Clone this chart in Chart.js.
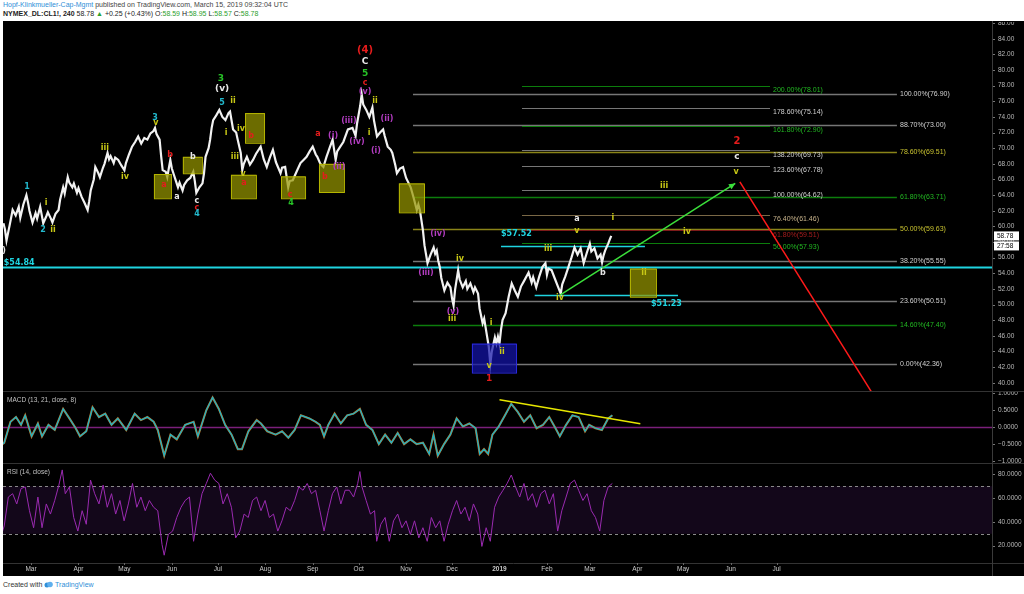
<!DOCTYPE html>
<html>
<head>
<meta charset="utf-8">
<script src="https://cdn.jsdelivr.net/npm/chart.js@4.4.1/dist/chart.umd.min.js"></script>
<style>
  body { margin: 0; width: 1024px; height: 594px; background: #fff; position: relative; overflow: hidden;
         font-family: "Liberation Sans", Arial, sans-serif; }
  #h1 { position: absolute; left: 3px; top: 1px; font-size: 7px; color: #444; white-space: nowrap; }
  #h1 .auth { color: #2f8fd8; }
  #h2 { position: absolute; left: 3px; top: 10px; font-size: 7px; color: #222; white-space: nowrap; }
  #h2 .g { color: #2ca02c; }
  #board { position: absolute; left: 3px; top: 21px; width: 1021px; height: 555px; background: #000; }
  #board canvas { position: absolute; left: 0; }
  .sep { position: absolute; left: 0; width: 1021px; height: 1px; background: #333; }
  #vsep { position: absolute; left: 989px; top: 0; width: 1px; height: 555px; background: #3a3a3a; }
  #foot { position: absolute; left: 3px; top: 581px; font-size: 7px; color: #333; white-space: nowrap; }
  #foot .tv { color: #2f8fd8; }
</style>
</head>
<body>
<div id="h1"><span class="auth">Hopf-Klinkmueller-Cap-Mgmt</span> published on TradingView.com, March 15, 2019 09:32:04 UTC</div>
<div id="h2"><b>NYMEX_DL:CL1!, 240</b> 58.78 <span class="g">&#9650;</span> +0.25 (+0.43%) O:<span class="g">58.59</span> H:<span class="g">58.95</span> L:<span class="g">58.57</span> C:<span class="g">58.78</span></div>
<div id="board">
  <canvas id="price" width="1021" height="369" style="top:1px"></canvas>
  <div class="sep" style="top:370px"></div>
  <canvas id="macd" width="1021" height="71" style="top:371px"></canvas>
  <div class="sep" style="top:442px"></div>
  <canvas id="rsi" width="1021" height="112" style="top:443px"></canvas>
  <div id="vsep"></div>
</div>
<div id="foot">Created with <svg width="9" height="7" viewBox="0 0 9 7" style="vertical-align:-1px"><circle cx="3" cy="4" r="2.5" fill="#2f8fd8"/><circle cx="6" cy="3.5" r="2.8" fill="#5fb0ee"/></svg> <span class="tv">TradingView</span></div>

<script>
// x values are days counted from 2018-03-01
const priceDay = [
  -18, -17, -16, -14, -12, -10, -8, -7, -5, -3,
  -2, -1, 1, 3, 4, 6, 8, 10, 11, 13,
  14, 16, 18, 19, 21, 22, 24, 25, 27, 28,
  30, 31, 33, 35, 37, 38, 39, 41, 42, 44,
  45, 47, 48, 50, 51, 52, 54, 55, 57, 59,
  61, 62, 64, 66, 68, 70, 72, 74, 76, 78,
  80, 81, 82, 84, 85, 86, 88, 89, 90, 91,
  92, 93, 95, 96, 97, 99, 100, 102, 104, 106,
  107, 108, 110, 112, 113, 114, 116, 117, 118, 119,
  121, 123, 125, 127, 129, 130, 132, 134, 135, 137,
  138, 139, 141, 143, 145, 147, 150, 152, 154, 156,
  158, 160, 163, 164, 166, 168, 169, 171, 173, 176,
  178, 180, 182, 184, 186, 187, 189, 191, 193, 195,
  197, 199, 200, 202, 204, 207, 210, 212, 213, 215,
  216, 217, 219, 221, 223, 224, 226, 228, 230, 231,
  233, 235, 236, 238, 239, 241, 243, 245, 248, 250,
  252, 253, 254, 255, 256, 257, 259, 261, 263, 264,
  265, 266, 267, 268, 270, 272, 274, 275, 276, 277,
  279, 280, 282, 284, 285, 287, 289, 290, 292, 293,
  295, 296, 298, 299, 300, 301, 303, 304, 305, 306,
  307, 308, 310, 312, 314, 316, 318, 320, 322, 325,
  327, 328, 330, 332, 334, 336, 337, 338, 340, 342,
  344, 346, 347, 349, 351, 353, 355, 357, 359, 361,
  363, 365, 366, 368, 370, 372, 373, 374, 375, 377, 378, 379
];
const priceClose = [
  60.4, 59.6, 58.2, 60.1, 62.1, 61.4, 62.5, 61.1, 62.8, 64.0,
  63.1, 62.0, 60.5, 61.7, 61.0, 62.5, 60.4, 61.3, 61.8, 61.0,
  60.5, 61.6, 62.1, 63.4, 65.0, 64.2, 66.3, 65.6, 65.0, 65.5,
  64.3, 64.9, 63.8, 63.0, 62.1, 63.2, 64.6, 66.0, 67.6, 66.8,
  66.3, 67.5, 68.0, 69.4, 68.6, 69.0, 68.1, 68.8, 68.5, 67.8,
  67.2, 68.1, 69.2, 70.2, 70.8, 71.5, 70.6, 71.3, 71.1, 71.9,
  72.2, 72.6, 71.8, 71.1, 69.0, 67.2, 67.0, 66.3, 67.4, 68.5,
  67.4, 66.8, 65.6, 65.0, 65.6, 64.6, 65.3, 65.9, 66.2, 67.0,
  65.8, 64.3, 65.0, 65.5, 66.8, 68.9, 70.0, 71.1, 72.6, 73.6,
  74.2, 74.9, 74.0, 73.6, 74.5, 74.7, 72.4, 72.0, 71.1, 69.4,
  67.2, 68.0, 68.9, 67.9, 68.5, 69.3, 70.2, 68.6, 67.6, 68.8,
  69.8, 68.2, 66.8, 67.5, 67.6, 65.0, 65.8, 65.9, 66.8, 68.1,
  68.5, 68.9, 69.6, 70.2, 69.2, 68.9, 68.0, 67.6, 68.9, 70.0,
  71.1, 68.5, 69.6, 70.2, 70.8, 72.4, 72.6, 71.6, 73.2, 75.4,
  76.9, 75.6, 74.9, 74.0, 75.2, 73.6, 71.5, 72.0, 72.4, 71.6,
  70.2, 69.8, 69.4, 67.8, 66.8, 67.4, 67.6, 66.2, 65.0, 63.6,
  62.1, 62.8, 62.1, 60.8, 59.5, 57.6, 55.3, 56.4, 57.3, 56.5,
  56.9, 55.6, 54.8, 53.4, 51.8, 52.8, 52.2, 50.8, 49.9, 51.9,
  54.4, 53.2, 52.2, 53.0, 52.0, 52.7, 51.6, 52.2, 51.4, 49.5,
  47.6, 48.2, 45.8, 44.6, 42.4, 44.0, 45.8, 45.0, 45.9, 45.0,
  46.8, 48.0, 48.9, 51.0, 52.7, 51.8, 51.0, 52.3, 53.0, 54.1,
  52.8, 53.5, 52.2, 53.6, 54.8, 55.3, 53.8, 54.6, 54.4, 53.4,
  52.4, 51.4, 52.6, 53.6, 54.8, 56.0, 57.3, 56.4, 57.2, 55.3,
  56.6, 57.8, 56.8, 57.2, 55.9, 56.4, 55.4, 56.3, 56.9, 57.8, 58.3, 58.78
];

const macdDay = [
  -20.2, -17.5, -13.4, -9.8, -6.5, -3.8, 0.4, 4.5, 7.2, 11.4,
  15.5, 21.0, 25.1, 29.2, 32.0, 36.1, 40.2, 44.4, 48.5, 52.6,
  56.7, 62.2, 67.7, 71.8, 76.0, 80.1, 82.8, 87.0, 91.1, 95.2,
  100.7, 106.2, 109.0, 114.5, 118.6, 122.7, 126.8, 131.0, 135.1, 137.8,
  142.0, 147.4, 150.2, 154.3, 159.8, 164.0, 168.1, 172.2, 176.3, 181.8,
  185.9, 188.7, 191.4, 194.2, 198.3, 202.4, 206.5, 210.7, 214.8, 218.9,
  223.0, 227.2, 231.3, 235.4, 239.5, 243.7, 247.8, 251.9, 256.0, 260.1,
  262.9, 265.7, 269.8, 273.9, 278.0, 282.1, 286.3, 290.4, 293.1, 295.9,
  298.6, 301.4, 305.5, 309.6, 313.7, 317.9, 322.0, 326.1, 330.2, 334.4,
  338.5, 342.6, 345.4, 349.5, 353.6, 357.7, 361.9, 364.6, 368.7, 372.9,
  377.0, 379.7
];
const macdValue = [
  -0.55, -0.46, 0.16, 0.30, 0.07, 0.35, -0.27, 0.11, -0.27, 0.07,
  -0.08, 0.54, 0.26, -0.03, -0.27, -0.12, 0.59, 0.30, 0.40, 0.07,
  0.26, -0.08, 0.40, 0.21, 0.30, 0.16, -0.08, -0.84, -0.22, -0.36,
  0.07, 0.16, -0.27, 0.50, 0.88, 0.54, 0.07, -0.22, -0.65, -0.65,
  -0.12, 0.21, 0.11, -0.12, -0.22, -0.12, -0.31, -0.08, 0.35, 0.26,
  0.16, 0.07, -0.27, 0.07, 0.40, 0.11, 0.35, 0.40, 0.54, 0.07,
  -0.08, -0.50, -0.22, -0.46, -0.17, -0.50, -0.36, -0.50, -0.46, -0.79,
  -0.22, -0.84, -0.50, -0.22, 0.26, 0.02, 0.11, -0.03, -0.79, -0.65,
  -0.79, -0.22, 0.02, 0.35, 0.69, 0.45, 0.16, 0.35, -0.03, 0.07,
  0.30, -0.03, -0.27, 0.07, 0.35, 0.30, -0.12, 0.07, -0.03, -0.08,
  0.26, 0.35
];

const rsiDay = [
  -18.9, -17.5, -14.8, -12.0, -9.3, -6.5, -3.8, -1.0, 1.7, 4.5,
  7.2, 10.0, 12.7, 15.5, 18.2, 20.4, 22.4, 25.1, 27.9, 30.6,
  33.4, 36.1, 38.9, 41.6, 44.4, 47.1, 49.8, 52.6, 55.3, 58.1,
  60.8, 63.6, 66.3, 69.1, 71.8, 74.6, 77.3, 80.1, 82.8, 85.6,
  87.0, 89.7, 92.5, 95.2, 98.0, 100.7, 103.5, 106.2, 109.0, 111.7,
  114.5, 117.2, 120.0, 122.7, 125.4, 128.2, 130.9, 133.7, 136.4, 139.2,
  141.9, 144.7, 147.4, 150.2, 152.9, 155.7, 158.4, 161.2, 163.9, 166.7,
  169.4, 172.2, 174.9, 177.7, 180.4, 183.2, 185.9, 188.7, 191.4, 194.2,
  196.9, 199.7, 202.4, 205.2, 207.9, 210.7, 213.4, 214.8, 216.2, 218.9,
  221.7, 224.4, 225.8, 228.5, 231.3, 234.0, 236.8, 239.5, 242.3, 245.0,
  247.8, 250.5, 253.3, 256.0, 258.8, 261.5, 264.3, 267.0, 269.8, 272.5,
  275.3, 278.0, 280.8, 283.5, 286.3, 289.0, 291.8, 294.5, 297.3, 300.0,
  302.8, 305.5, 308.3, 311.0, 313.7, 316.5, 319.2, 322.0, 324.7, 327.5,
  330.2, 333.0, 335.7, 338.5, 341.2, 344.0, 346.7, 349.5, 352.2, 355.0,
  357.7, 360.5, 363.2, 366.0, 368.7, 371.5, 374.2, 377.0, 379.7
];
const rsiValue = [
  30.9, 36.6, 60.9, 63.7, 55.1, 68.0, 69.4, 49.4, 35.1, 60.9,
  35.1, 55.1, 46.6, 58.0, 70.9, 83.7, 63.7, 69.4, 43.7, 32.3,
  49.4, 38.0, 75.1, 63.7, 55.1, 70.9, 52.3, 63.7, 46.6, 58.0,
  40.9, 55.1, 72.3, 52.3, 60.9, 49.4, 58.0, 52.3, 49.4, 20.9,
  12.0, 29.4, 32.3, 43.7, 52.3, 58.0, 60.9, 23.7, 46.6, 63.7,
  72.3, 80.9, 75.1, 72.3, 55.1, 63.7, 52.3, 26.6, 32.3, 46.6,
  43.7, 58.0, 60.9, 49.4, 58.0, 43.7, 46.6, 32.3, 40.9, 52.3,
  49.4, 58.0, 69.4, 66.6, 72.3, 63.7, 66.6, 49.4, 32.3, 49.4,
  63.7, 69.4, 55.1, 66.6, 66.6, 60.9, 72.3, 82.3, 69.4, 58.0,
  46.6, 49.4, 23.7, 38.0, 43.7, 23.7, 40.9, 46.6, 35.1, 40.9,
  29.4, 40.9, 26.6, 35.1, 23.7, 43.7, 35.1, 40.9, 23.7, 38.0,
  49.4, 58.0, 46.6, 52.3, 40.9, 55.1, 46.6, 19.4, 35.1, 23.7,
  52.3, 60.9, 66.6, 72.3, 79.4, 69.4, 60.9, 72.3, 58.0, 63.7,
  52.3, 63.7, 66.6, 55.1, 63.7, 32.3, 49.4, 60.9, 72.3, 75.1,
  66.6, 58.0, 63.7, 49.4, 43.7, 32.3, 58.0, 69.4, 72.3
];

const priceTicks = [40, 42, 44, 46, 48, 50, 52, 54, 56, 58, 60, 62, 64, 66, 68, 70, 72, 74, 76, 78, 80, 82, 84, 86];
const macdTicks = [1, 0.5, 0, -0.5, -1];
const rsiTicks = [80, 60, 40, 20];
const monthDay = [0, 31, 61, 92, 122, 153, 184, 214, 245, 275, 306, 337, 365, 396, 426, 457, 487];
const monthLabel = ["Mar", "Apr", "May", "Jun", "Jul", "Aug", "Sep", "Oct", "Nov", "Dec", "2019", "Feb", "Mar", "Apr", "May", "Jun", "Jul"];

// fibonacci levels (retracement of the Oct high / Dec low, and the extension)
const fibALevel = [76.90, 73.00, 69.51, 63.71, 59.63, 55.55, 50.51, 47.40, 42.36];
const fibAPct = ["100.00%", "88.70%", "78.60%", "61.80%", "50.00%", "38.20%", "23.60%", "14.60%", "0.00%"];
const fibBLevel = [78.01, 75.14, 72.90, 69.73, 67.78, 64.62, 61.46, 59.51, 57.93];
const fibBPct = ["200.00%", "178.60%", "161.80%", "138.20%", "123.60%", "100.00%", "76.40%", "61.80%", "50.00%"];

const X_MIN = -18.29, X_MAX = 627.7;

const COL = {
  w: "#e8e8e8", y: "#c9c916", r: "#e51c1c", g: "#27c427", c: "#22b8cc", m: "#b23cc0", cy: "#1fd4e0"
};
const FIB_COL = { gray: ["#767676", "#d0d0d0"], green: ["#0c7d0c", "#22b822"], olive: ["#8a8418", "#c8c230"],
                  tan: ["#7a6846", "#c9b48c"], red: ["#7d1a1a", "#a51d1d"] };
const fibAStyle = ["gray", "gray", "olive", "green", "olive", "gray", "gray", "green", "gray"];
const fibBStyle = ["green", "gray", "green", "gray", "gray", "gray", "tan", "red", "green"];

// wave labels: text, day, price, colour, size
const waves = [
  [")", -17.6, 56.8, "w", 8], ["1", -2.6, 65.0, "c", 8], ["i", 9.8, 63.0, "y", 8], ["2", 7.8, 59.5, "c", 8],
  ["ii", 14.4, 59.5, "y", 8], ["iii", 48.3, 70.0, "y", 8], ["iv", 61.4, 66.3, "y", 8], ["3", 81, 73.9, "c", 8],
  ["v", 81.6, 73.2, "y", 8], ["b", 90.8, 69.1, "r", 8], ["a", 86.9, 65.3, "r", 8], ["a", 95.4, 63.8, "w", 8],
  ["b", 105.8, 68.9, "w", 8], ["c", 108.4, 63.2, "w", 8], ["c", 108.4, 62.4, "r", 8], ["4", 108.4, 61.6, "c", 8],
  ["3", 124.1, 78.9, "g", 9], ["(v)", 124.8, 77.6, "w", 9], ["5", 124.8, 75.8, "c", 8], ["ii", 131.9, 76.1, "y", 8],
  ["i", 127.4, 72.0, "y", 8], ["iv", 137.2, 72.5, "y", 8], ["b", 143.7, 71.6, "r", 8], ["iii", 133.2, 68.9, "y", 8],
  ["v", 138.5, 66.7, "y", 8], ["a", 139.1, 65.5, "r", 8], ["c", 169.2, 64.0, "r", 8], ["4", 169.8, 63.0, "g", 8],
  ["a", 187.5, 71.8, "r", 8], ["(i)", 197.3, 71.6, "m", 8], ["b", 192, 66.3, "r", 8], ["(ii)", 201.2, 67.6, "m", 8],
  ["(iii)", 207.7, 73.5, "m", 8], ["(iv)", 212.9, 70.8, "m", 8], ["(4)", 218.2, 82.5, "r", 10], ["C", 218.2, 81.1, "w", 9],
  ["5", 218.2, 79.5, "g", 9], ["c", 218.2, 78.4, "r", 8], ["(v)", 218.2, 77.2, "m", 8], ["ii", 224.7, 76.1, "y", 8],
  ["i", 220.8, 72.0, "y", 8], ["(ii)", 232.5, 73.8, "m", 8], ["(i)", 225.3, 69.7, "m", 8], ["(iv)", 265.8, 59.1, "m", 8],
  ["iv", 280.2, 55.9, "y", 8], ["(iii)", 258, 54.0, "m", 8], ["(v)", 275.6, 49.1, "m", 8], ["iii", 275, 48.2, "y", 8],
  ["i", 300.5, 47.7, "y", 8], ["ii", 307.6, 43.9, "y", 8], ["v", 299.2, 42.1, "y", 8], ["1", 299.2, 40.5, "r", 9],
  ["iii", 337.7, 57.1, "y", 8], ["a", 356.6, 60.9, "w", 8], ["v", 356.6, 59.4, "y", 8], ["i", 380.1, 61.1, "y", 8],
  ["iv", 428.5, 59.3, "y", 8], ["b", 373.6, 54.0, "w", 8], ["iv", 345.5, 50.8, "y", 8], ["ii", 400.4, 54.1, "y", 8],
  ["iii", 413.5, 65.2, "y", 8], ["2", 461.1, 70.9, "r", 10], ["c", 461.1, 68.9, "w", 9], ["v", 460.5, 67.0, "y", 8]
];

// yellow boxes: day from, day to, price top, price bottom
const boxes = [
  [80.3, 91.4, 66.7, 63.6], [99.2, 111.6, 68.9, 66.8], [139.8, 152.2, 74.5, 70.7], [130.6, 146.9, 66.6, 63.6],
  [163.3, 179.0, 66.4, 63.6], [188.1, 204.4, 68.0, 64.4], [240.3, 256.7, 65.5, 61.8], [391.2, 408.2, 54.6, 51.0]
];
const blueBox = [288.0, 316.8, 45.0, 41.3];

function X(ch, d) { return ch.scales.x.getPixelForValue(d); }
function Y(ch, v) { return ch.scales.y.getPixelForValue(v); }

function hline(ctx, x1, x2, y, color, w) {
  ctx.strokeStyle = color; ctx.lineWidth = w || 1;
  ctx.beginPath(); ctx.moveTo(x1, Math.round(y) + 0.5); ctx.lineTo(x2, Math.round(y) + 0.5); ctx.stroke();
}

function drawAxis(ch, values, fmt) {
  const ctx = ch.ctx, right = ch.chartArea.right;
  ctx.save();
  ctx.font = '6.5px "Liberation Sans"';
  ctx.fillStyle = "#b8b8b8"; ctx.textAlign = "left"; ctx.textBaseline = "middle";
  values.forEach(v => {
    const p = Y(ch, v);
    hline(ctx, right, right + 3, p, "#777", 1);
    ctx.fillText(fmt(v), right + 6, p);
  });
  ctx.restore();
}

const baseOptions = (ymin, ymax, padBottom) => ({
  responsive: false,
  animation: false,
  events: [],
  layout: { padding: { left: 0, top: 0, right: 32, bottom: padBottom || 0 } },
  plugins: { legend: { display: false }, tooltip: { enabled: false } },
  scales: {
    x: { type: "linear", min: X_MIN, max: X_MAX, display: false },
    y: { min: ymin, max: ymax, display: false }
  }
});

const pricePlugin = {
  id: "priceDecor",
  beforeDatasetsDraw(ch) {
    const ctx = ch.ctx, a = ch.chartArea;
    ctx.save();
    ctx.font = '7px "Liberation Sans"';
    ctx.textBaseline = "middle"; ctx.textAlign = "left";
    fibALevel.forEach((v, i) => {
      const st = FIB_COL[fibAStyle[i]], y = Y(ch, v);
      hline(ctx, X(ch, 249.5), X(ch, 565.6), y, st[0], 1.6);
      ctx.fillStyle = st[1];
      ctx.fillText(fibAPct[i] + "(" + v.toFixed(2) + ")", X(ch, 567.6), y);
    });
    ctx.textBaseline = "top";
    fibBLevel.forEach((v, i) => {
      const st = FIB_COL[fibBStyle[i]], y = Y(ch, v);
      hline(ctx, X(ch, 320.7), X(ch, 482.7), y, st[0], 1);
      ctx.fillStyle = st[1];
      ctx.fillText(fibBPct[i] + "(" + v.toFixed(2) + ")", X(ch, 484.7), y + 1);
    });
    // cyan support / resistance lines
    hline(ctx, a.left, a.right, Y(ch, 54.84), COL.cy, 2);
    hline(ctx, X(ch, 307), X(ch, 401), Y(ch, 57.52), COL.cy, 1.5);
    hline(ctx, X(ch, 329), X(ch, 422.6), Y(ch, 51.23), COL.cy, 1.5);
    ctx.restore();
  },
  afterDatasetsDraw(ch) {
    const ctx = ch.ctx, a = ch.chartArea;
    ctx.save();
    ctx.beginPath(); ctx.rect(a.left, a.top, a.right - a.left, a.bottom - a.top); ctx.clip();
    boxes.forEach(b => {
      const x1 = X(ch, b[0]), x2 = X(ch, b[1]), y1 = Y(ch, b[2]), y2 = Y(ch, b[3]);
      ctx.fillStyle = "rgba(150,150,0,0.72)"; ctx.fillRect(x1, y1, x2 - x1, y2 - y1);
      ctx.strokeStyle = "#b5b500"; ctx.lineWidth = 1; ctx.strokeRect(x1 + 0.5, y1 + 0.5, x2 - x1, y2 - y1);
    });
    {
      const b = blueBox, x1 = X(ch, b[0]), x2 = X(ch, b[1]), y1 = Y(ch, b[2]), y2 = Y(ch, b[3]);
      ctx.fillStyle = "rgba(20,20,170,0.72)"; ctx.fillRect(x1, y1, x2 - x1, y2 - y1);
      ctx.strokeStyle = "#2a2ae0"; ctx.strokeRect(x1 + 0.5, y1 + 0.5, x2 - x1, y2 - y1);
    }
    // projected path
    ctx.lineWidth = 1.5;
    ctx.strokeStyle = "#3be03b";
    const gx1 = X(ch, 345.5), gy1 = Y(ch, 51.2), gx2 = X(ch, 460), gy2 = Y(ch, 65.5);
    ctx.beginPath(); ctx.moveTo(gx1, gy1); ctx.lineTo(gx2, gy2); ctx.stroke();
    const ang = Math.atan2(gy2 - gy1, gx2 - gx1);
    ctx.fillStyle = "#3be03b";
    ctx.beginPath(); ctx.moveTo(gx2, gy2);
    ctx.lineTo(gx2 - 7 * Math.cos(ang - 0.45), gy2 - 7 * Math.sin(ang - 0.45));
    ctx.lineTo(gx2 - 7 * Math.cos(ang + 0.45), gy2 - 7 * Math.sin(ang + 0.45));
    ctx.closePath(); ctx.fill();
    ctx.strokeStyle = "#ff1a1a";
    ctx.beginPath(); ctx.moveTo(X(ch, 463), Y(ch, 65.7)); ctx.lineTo(X(ch, 550), Y(ch, 38.5)); ctx.stroke();
    ctx.restore();

    ctx.save();
    ctx.textAlign = "center"; ctx.textBaseline = "middle";
    waves.forEach(w => {
      ctx.font = "bold " + w[4] + 'px "DejaVu Sans"';
      ctx.fillStyle = COL[w[3]];
      ctx.fillText(w[0], X(ch, w[1]), Y(ch, w[2]));
    });
    ctx.textAlign = "left";
    ctx.font = 'bold 8px "DejaVu Sans"';
    ctx.fillStyle = COL.cy;
    ctx.fillText("$54.84", X(ch, -17.8), Y(ch, 55.35));
    ctx.fillText("$57.52", X(ch, 307), Y(ch, 59.1));
    ctx.fillText("$51.23", X(ch, 405), Y(ch, 50.1));
    ctx.restore();

    drawAxis(ch, priceTicks, v => v.toFixed(2));
    // last price tag
    const py = Y(ch, 58.78);
    ctx.save();
    ctx.fillStyle = "#fff";
    ctx.fillRect(a.right + 2, py - 4.5, 25, 9);
    ctx.fillRect(a.right + 2, py + 5.5, 25, 9);
    ctx.fillStyle = "#000"; ctx.font = '6.5px "Liberation Sans"'; ctx.textBaseline = "middle"; ctx.textAlign = "left";
    ctx.fillText("58.78", a.right + 5, py);
    ctx.fillText("27:58", a.right + 5, py + 10);
    ctx.restore();
  }
};

const macdPlugin = {
  id: "macdDecor",
  beforeDatasetsDraw(ch) {
    const ctx = ch.ctx, a = ch.chartArea;
    ctx.save();
    hline(ctx, a.left, a.right, Y(ch, 0), "#7a1f7a", 1.5);
    ctx.restore();
  },
  afterDatasetsDraw(ch) {
    const ctx = ch.ctx;
    ctx.save();
    ctx.strokeStyle = "#e6e600"; ctx.lineWidth = 1.5;
    ctx.beginPath(); ctx.moveTo(X(ch, 306), Y(ch, 0.81)); ctx.lineTo(X(ch, 398), Y(ch, 0.10)); ctx.stroke();
    ctx.font = '6.5px "Liberation Sans"'; ctx.fillStyle = "#c0c0c0"; ctx.textBaseline = "top";
    ctx.fillText("MACD (13, 21, close, 8)", 4, 5);
    ctx.restore();
    drawAxis(ch, macdTicks, v => (v < 0 ? "\u2212" : "") + Math.abs(v).toFixed(4));
  }
};

const rsiPlugin = {
  id: "rsiDecor",
  beforeDatasetsDraw(ch) {
    const ctx = ch.ctx, a = ch.chartArea;
    ctx.save();
    ctx.fillStyle = "#13071a";
    ctx.fillRect(a.left, Y(ch, 70), a.right - a.left, Y(ch, 30) - Y(ch, 70));
    ctx.setLineDash([3, 3]);
    hline(ctx, a.left, a.right, Y(ch, 70), "#8a8a8a", 1);
    hline(ctx, a.left, a.right, Y(ch, 30), "#8a8a8a", 1);
    ctx.restore();
  },
  afterDatasetsDraw(ch) {
    const ctx = ch.ctx, a = ch.chartArea;
    ctx.save();
    ctx.font = '6.5px "Liberation Sans"'; ctx.fillStyle = "#c0c0c0"; ctx.textBaseline = "top";
    ctx.fillText("RSI (14, close)", 4, 5);
    hline(ctx, 0, ch.width, a.bottom, "#333", 1);
    ctx.textAlign = "center"; ctx.textBaseline = "middle"; ctx.fillStyle = "#c8c8c8";
    monthDay.forEach((d, i) => {
      const x = X(ch, d);
      ctx.font = (monthLabel[i] === "2019" ? "bold " : "") + '6.5px "Liberation Sans"';
      ctx.fillText(monthLabel[i], x, a.bottom + 6.5);
      ctx.strokeStyle = "#666"; ctx.beginPath(); ctx.moveTo(Math.round(x) + 0.5, a.bottom); ctx.lineTo(Math.round(x) + 0.5, a.bottom + 2); ctx.stroke();
    });
    ctx.restore();
    drawAxis(ch, rsiTicks, v => v.toFixed(4));
  }
};

const pts = (xs, ys) => xs.map((x, i) => ({ x: x, y: ys[i] }));

new Chart(document.getElementById("price"), {
  type: "line",
  data: { datasets: [{ data: pts(priceDay, priceClose), borderColor: "#f2f2f2", borderWidth: 2.2, pointRadius: 0, tension: 0 }] },
  options: baseOptions(38.94, 86.15),
  plugins: [pricePlugin]
});

new Chart(document.getElementById("macd"), {
  type: "line",
  data: { datasets: [
    { data: pts(macdDay, macdValue), borderColor: "#1fb3c4", borderWidth: 1.3, pointRadius: 0, tension: 0 },
    { data: pts(macdDay, macdValue), borderColor: "#c46a1c", borderWidth: 2.1, pointRadius: 0, tension: 0 }
  ] },
  options: baseOptions(-1.058, 1.04),
  plugins: [macdPlugin]
});

new Chart(document.getElementById("rsi"), {
  type: "line",
  data: { datasets: [{ data: pts(rsiDay, rsiValue), borderColor: "#9a2ab0", borderWidth: 1, pointRadius: 0, tension: 0 }] },
  options: baseOptions(5.46, 88.66, 13),
  plugins: [rsiPlugin]
});
</script>
</body>
</html>
